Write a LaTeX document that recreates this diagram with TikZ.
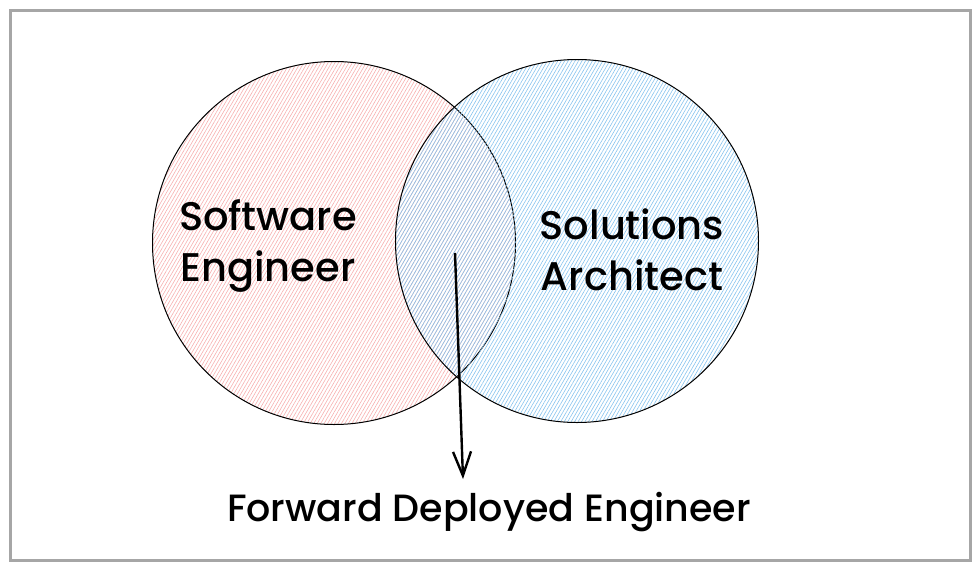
\documentclass[tikz,border=0pt]{standalone}
\usepackage{fontspec}
\setmainfont{Poppins}[UprightFont={* Medium}]
\usepackage{xcolor}
\usetikzlibrary{positioning,arrows.meta,patterns.meta}
\definecolor{sepink}{HTML}{F7AFAF}
\definecolor{sablue}{HTML}{86C3EE}
\definecolor{frame}{HTML}{A6A6A6}

\begin{document}
\begin{tikzpicture}[x=1pt,y=-1pt,>={Straight Barb[length=24pt,width=18pt,line width=2.4pt]},
		set/.style={circle,draw,line width=1pt,minimum size=363pt,inner sep=0pt},
		role/.style={align=center,font=\fontsize{40}{51}\selectfont}]
			\useasboundingbox (0,0) rectangle (980,571);
			\draw[frame,line width=3pt] (10,10) rectangle (970,560);

			\node[set,pattern={Lines[angle=60,distance=3pt,line width=0.6pt]},pattern color=sepink] (cl) at (334,243) {};
			\node[set,pattern={Lines[angle=60,distance=3pt,line width=0.6pt]},pattern color=sablue] (cr) at (577,241) {};

			\node[role] (se) at (268,246) {Software\\Engineer};
			\node[role] (sa) at (632,250) {Solutions\\Architect};
			\node[role,font=\fontsize{38}{46}\selectfont] (fde) at (489,512) {Forward Deployed Engineer};

			\coordinate (top) at (455,253);
			\coordinate (tip) at (463,479);
			\draw[->,line width=2.4pt] (top) -- (tip);
\end{tikzpicture}
\end{document}
